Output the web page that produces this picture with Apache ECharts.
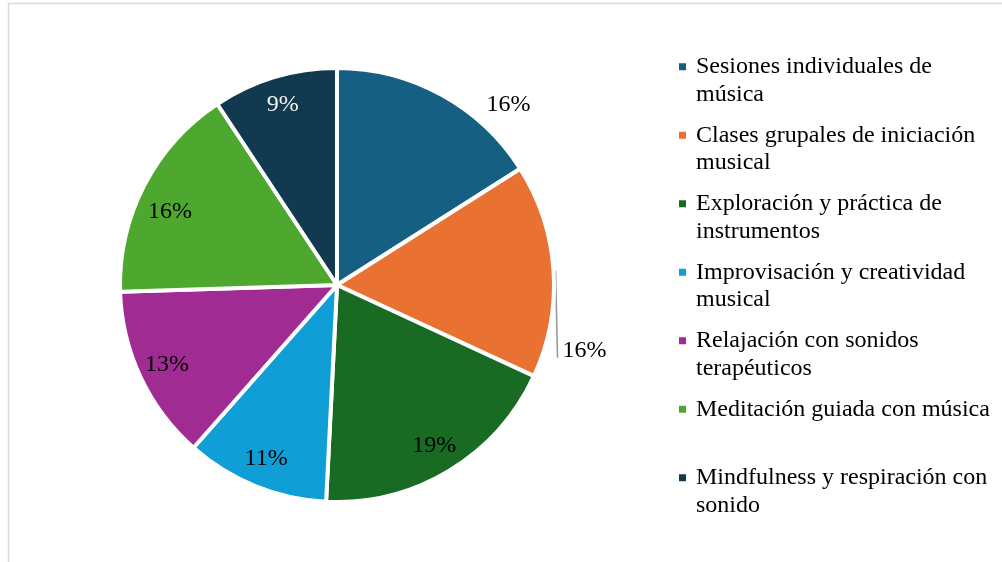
<!DOCTYPE html>
<html>
<head>
<meta charset="utf-8">
<script src="https://cdn.jsdelivr.net/npm/echarts@6/dist/echarts.min.js"></script>
<style>
html,body{margin:0;padding:0;background:#fff;}
#chart{width:1002px;height:562px;}
</style>
</head>
<body>
<div id="chart"></div>
<script>
// ---- data ----
var categories = [
  'Sesiones individuales de música',
  'Clases grupales de iniciación musical',
  'Exploración y práctica de instrumentos',
  'Improvisación y creatividad musical',
  'Relajación con sonidos terapéuticos',
  'Meditación guiada con música',
  'Mindfulness y respiración con sonido'
];
var values = [16.0, 15.9, 18.9, 10.7, 13.0, 16.2, 9.3];
var colors = ['#156082', '#E97132', '#196B24', '#0F9ED5', '#A02B93', '#4EA72E', '#113A50'];
var labelColors = ['#000', '#000', '#000', '#000', '#000', '#000', '#f2f2f2'];
var outsideLabels = [0, 1];

var FONT = '"Liberation Serif", "Times New Roman", serif';

// word-wrap legend text
var measureCtx = document.createElement('canvas').getContext('2d');
measureCtx.font = '24px ' + FONT;
function wrap(text, maxW) {
  var words = text.split(' '), lines = [], cur = '';
  words.forEach(function (w) {
    var test = cur ? cur + ' ' + w : w;
    if (cur && measureCtx.measureText(test).width > maxW) { lines.push(cur); cur = w; }
    else cur = test;
  });
  if (cur) lines.push(cur);
  return lines;
}

var rich = {
  g: { width: 10, height: 27.5, lineHeight: 27.5 },
  sp: { width: 17, height: 27.5, lineHeight: 27.5 },
  t: { fontFamily: FONT, fontSize: 24, color: '#000', lineHeight: 27.5 }
};
colors.forEach(function (c, i) {
  rich['m' + i] = { width: 7, height: 7, backgroundColor: c, lineHeight: 27.5 };
});

var chart = echarts.init(document.getElementById('chart'), null, { renderer: 'canvas' });

var mainData = categories.map(function (n, i) {
  var item = { name: n, value: values[i], itemStyle: { color: colors[i] } };
  if (outsideLabels.indexOf(i) >= 0) {
    item.label = { show: true, position: 'outside' };
    item.labelLine = i === 0 ? { show: false, length: 0, length2: 40 }
                             : { show: true, length: 0, length2: 4, lineStyle: { color: '#9a9a9a', width: 1.6 } };
  }
  return item;
});
var overlayData = categories.map(function (n, i) {
  return {
    name: n, value: values[i],
    label: { show: outsideLabels.indexOf(i) < 0, color: labelColors[i] }
  };
});

function pct(p) { return Math.round(p.percent) + '%'; }

chart.setOption({
  animation: false,
  color: colors,
  graphic: [{
    type: 'rect', silent: true, z: -1,
    shape: { x: 8.5, y: 3.5, width: 1200, height: 800 },
    style: { fill: 'none', stroke: '#d9d9d9', lineWidth: 1.5 }
  }],
  legend: {
    orient: 'vertical',
    left: 673, top: 53,
    padding: 0,
    itemGap: 13.5,
    itemWidth: 0, itemHeight: 0,
    icon: 'rect',
    selectedMode: false,
    data: categories,
    formatter: function (name) {
      var i = categories.indexOf(name);
      var lines = wrap(name, 298);
      var s = '{m' + i + '|}{g|}{t|' + lines[0] + '}';
      if (lines.length > 1) s += '\n{sp|}{t|' + lines.slice(1).join(' ') + '}';
      else s += '\n{sp|}{t| }';
      return s;
    },
    textStyle: { rich: rich, padding: 0 }
  },
  series: [{
    type: 'pie',
    center: [337, 285],
    radius: 217,
    startAngle: 90,
    clockwise: true,
    avoidLabelOverlap: false,
    emphasis: { disabled: true },
    itemStyle: { borderColor: '#fff', borderWidth: 4 },
    label: { show: false, formatter: pct, fontFamily: FONT, fontSize: 24, color: '#000' },
    labelLine: { z: 10 },
    labelLayout: function (p) {
      if (p.dataIndex === 0) return { dy: 10 };
      if (p.dataIndex === 1) {
        var dy = 80;
        var pts = p.labelLinePoints;
        var out = { dy: dy };
        if (pts && pts.length) {
          var s = pts[0];
          out.labelLinePoints = [
            [s[0] + 2, s[1]],
            [p.labelRect.x - 5, p.labelRect.y + p.labelRect.height / 2 + dy + 7]
          ];
        }
        return out;
      }
      return {};
    },
    data: mainData
  }, {
    type: 'pie',
    center: [337, 285],
    radius: [150, 220],
    startAngle: 90,
    clockwise: true,
    silent: true,
    avoidLabelOverlap: false,
    emphasis: { disabled: true },
    itemStyle: { color: 'rgba(0,0,0,0)', borderWidth: 0 },
    label: { position: 'inside', formatter: pct, fontFamily: FONT, fontSize: 24 },
    labelLine: { show: false },
    labelLayout: function (p) {
      if (p.dataIndex === 5) return { dy: 13 };
      return {};
    },
    data: overlayData
  }]
});
</script>
</body>
</html>
